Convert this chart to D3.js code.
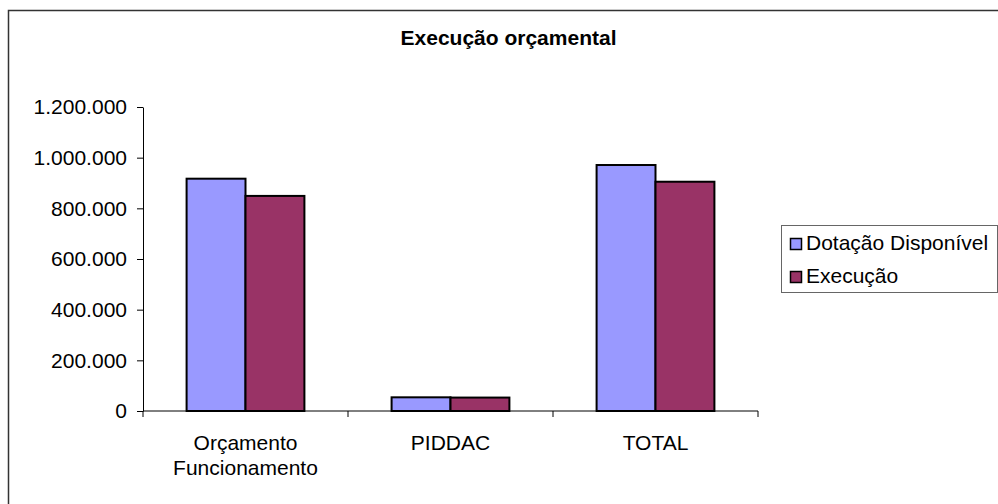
<!DOCTYPE html>
<html>
<head>
<meta charset="utf-8">
<script src="https://cdn.jsdelivr.net/npm/d3@7"></script>
<style>
  html, body { margin: 0; padding: 0; background: #fff; }
  svg { display: block; font-family: "Liberation Sans", Arial, sans-serif; }
</style>
</head>
<body>
<svg id="chart" width="998" height="504"></svg>
<script>
// Budget execution data
const categories = ["Orçamento Funcionamento", "PIDDAC", "TOTAL"];
const categoryLines = [["Orçamento", "Funcionamento"], ["PIDDAC"], ["TOTAL"]];
const seriesNames = ["Dotação Disponível", "Execução"];
const dotacao = [917000, 54000, 971000];
const execucao = [849000, 53000, 905000];
const yTicks = [0, 200000, 400000, 600000, 800000, 1000000, 1200000];
const colors = ["#9999FF", "#993366"];

const FONT = 21;
const svg = d3.select("#chart");

// outer chart frame
svg.append("rect")
  .attr("x", 8.5).attr("y", 10.5)
  .attr("width", 1000).attr("height", 500)
  .attr("fill", "#fff").attr("stroke", "#333").attr("stroke-width", 1.5);

// title
svg.append("text")
  .attr("x", 508.5).attr("y", 45)
  .attr("text-anchor", "middle")
  .attr("font-size", FONT).attr("font-weight", "bold")
  .text("Execução orçamental");

const plotLeft = 143, plotRight = 758, plotTop = 107, plotBottom = 411;

const x = d3.scaleBand().domain(categories).range([plotLeft, plotRight]).paddingInner(0).paddingOuter(0);
const y = d3.scaleLinear().domain([0, 1200000]).range([plotBottom, plotTop]);
const xs = d3.scaleBand().domain(seriesNames).range([0, x.bandwidth()]).paddingInner(0).paddingOuter(0.74);

const fmt = v => d3.format(",")(v).replace(/,/g, ".");

// y axis
const yAxis = svg.append("g")
  .attr("transform", `translate(${plotLeft},0)`)
  .call(d3.axisLeft(y).tickValues(yTicks).tickFormat(fmt).tickSize(6).tickSizeOuter(0));
yAxis.select(".domain").attr("stroke", "#000");
yAxis.selectAll(".tick line").attr("stroke", "#000");
yAxis.selectAll(".tick text").attr("font-size", FONT).attr("fill", "#000")
  .attr("font-family", "Liberation Sans, Arial, sans-serif").attr("x", -16);

// bars
const data = categories.map((c, i) => ({ cat: c, vals: [dotacao[i], execucao[i]] }));
const groups = svg.append("g").selectAll("g").data(data).join("g")
  .attr("transform", d => `translate(${x(d.cat)},0)`);
groups.selectAll("rect").data(d => d.vals.map((v, j) => ({ name: seriesNames[j], v, j })))
  .join("rect")
  .attr("x", d => xs(d.name))
  .attr("y", d => y(d.v))
  .attr("width", xs.bandwidth())
  .attr("height", d => y(0) - y(d.v))
  .attr("fill", d => colors[d.j])
  .attr("stroke", "#000").attr("stroke-width", 2);

// x axis with ticks at category boundaries
const xg = svg.append("g");
xg.append("line").attr("x1", plotLeft).attr("x2", plotRight).attr("y1", plotBottom).attr("y2", plotBottom)
  .attr("stroke", "#000");
const bounds = categories.map(c => x(c)).concat([x(categories[categories.length - 1]) + x.bandwidth()]);
xg.selectAll("line.tk").data(bounds).join("line").attr("class", "tk")
  .attr("x1", d => d).attr("x2", d => d).attr("y1", plotBottom).attr("y2", plotBottom + 6)
  .attr("stroke", "#000");

// category labels
categories.forEach((c, i) => {
  const cx = x(c) + x.bandwidth() / 2;
  const t = svg.append("text")
    .attr("x", cx).attr("y", 450)
    .attr("text-anchor", "middle")
    .attr("font-size", FONT);
  categoryLines[i].forEach((line, k) => {
    t.append("tspan").attr("x", cx).attr("dy", k === 0 ? 0 : 24.5).text(line);
  });
});

// legend
const lg = svg.append("g");
lg.append("rect").attr("x", 781.5).attr("y", 225.5).attr("width", 216).attr("height", 67)
  .attr("fill", "#fff").attr("stroke", "#666").attr("stroke-width", 1);
seriesNames.forEach((n, i) => {
  const base = 249.5 + i * 33;
  lg.append("rect").attr("x", 790.5).attr("y", base - 11).attr("width", 11).attr("height", 11)
    .attr("fill", colors[i]).attr("stroke", "#000").attr("stroke-width", 1.5);
  lg.append("text").attr("x", 806).attr("y", base).attr("font-size", FONT).text(n);
});
</script>
</body>
</html>
